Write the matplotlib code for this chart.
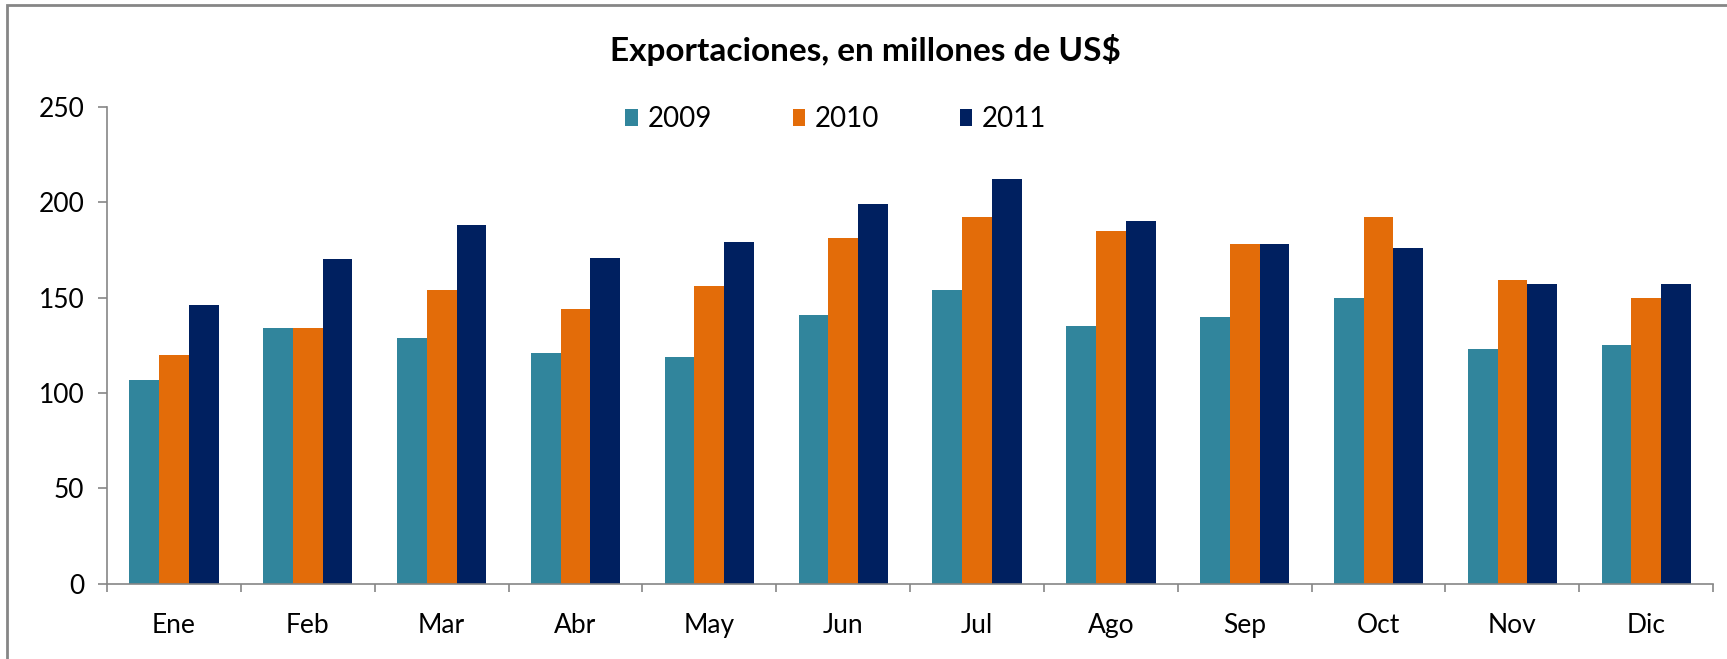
import numpy as np
import matplotlib
matplotlib.use("Agg")
import matplotlib.pyplot as plt
from matplotlib.patches import Rectangle

months = ["Ene", "Feb", "Mar", "Abr", "May", "Jun",
          "Jul", "Ago", "Sep", "Oct", "Nov", "Dic"]
years = ["2009", "2010", "2011"]
exp_2009 = [107, 134, 129, 121, 119, 141, 154, 135, 140, 150, 123, 125]
exp_2010 = [120, 134, 154, 144, 156, 181, 192, 185, 178, 192, 159, 150]
exp_2011 = [146, 170, 188, 171, 179, 199, 212, 190, 178, 176, 157, 157]
colors = ["#31859C", "#E36C09", "#002060"]

plt.rcParams['font.family'] = ['Lato', 'DejaVu Sans']

fig = plt.figure(figsize=(17.27, 6.59), dpi=100)
ax = fig.add_axes([0.062, 0.114, 0.930, 0.724])

x = np.arange(len(months))
w = 1 / 4.5
for i, (vals, yr) in enumerate(zip([exp_2009, exp_2010, exp_2011], years)):
    ax.bar(x + (i - 1) * w, vals, width=w, color=colors[i], label=yr,
           edgecolor="none", zorder=2)

ax.set_xlim(-0.5, len(months) - 0.5)
ax.set_ylim(0, 250)
ax.set_yticks(range(0, 251, 50))

# ticks at category boundaries, labels at centers
ax.set_xticks(np.arange(-0.5, len(months), 1))
ax.set_xticklabels([])
ax.set_xticks(x, minor=True)
ax.set_xticklabels(months, minor=True)
ax.tick_params(axis="x", which="major", length=6, width=1.2, color="#868686", direction="out")
ax.tick_params(axis="x", which="minor", length=0, pad=21, labelsize=19)
ax.tick_params(axis="y", length=6.5, width=1.2, color="#868686", pad=10, labelsize=19)

for s in ["top", "right"]:
    ax.spines[s].set_visible(False)
for s in ["left", "bottom"]:
    ax.spines[s].set_color("#868686")
    ax.spines[s].set_linewidth(1.2)

fig.text(0.501, 0.924, "Exportaciones, en millones de US$", ha="center", va="center",
         fontsize=24, fontweight="bold")

fig.legend(loc="center", bbox_to_anchor=(0.484, 0.819), ncol=3, frameon=False,
           fontsize=20, handlelength=0.45, handleheight=0.6, handletextpad=0.35,
           columnspacing=2.9)

# outer chart border
fig.add_artist(Rectangle((7 / 1727, -0.02), 1.05, 1 - 5 / 659 + 0.02,
                         transform=fig.transFigure, fill=False,
                         edgecolor="#868686", linewidth=2))

fig.savefig("out.png", dpi=100)
